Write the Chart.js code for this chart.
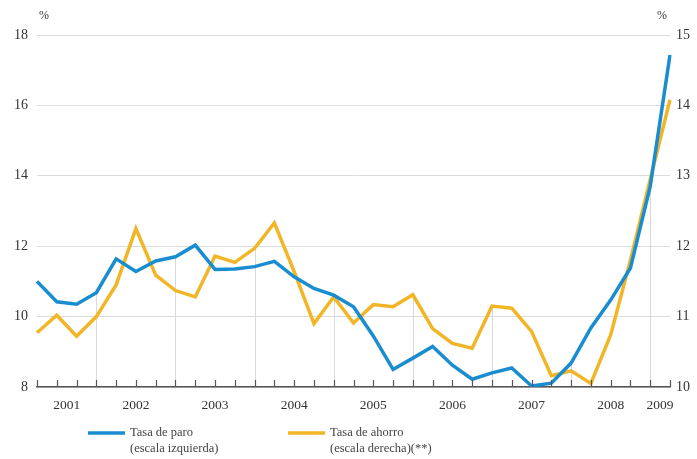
<!DOCTYPE html>
<html>
<head>
<meta charset="utf-8">
<script src="https://cdn.jsdelivr.net/npm/chart.js@4.4.0/dist/chart.umd.min.js"></script>
<style>
  html, body { margin: 0; padding: 0; background: #fff; }
  #wrap { width: 697px; height: 459px; position: relative; }
</style>
</head>
<body>
<div id="wrap"><canvas id="chart" width="697" height="459"></canvas></div>
<script>
//==================== DATA ====================
var quarters = ["II-01","III-01","IV-01",
  "I-02","II-02","III-02","IV-02",
  "I-03","II-03","III-03","IV-03",
  "I-04","II-04","III-04","IV-04",
  "I-05","II-05","III-05","IV-05",
  "I-06","II-06","III-06","IV-06",
  "I-07","II-07","III-07","IV-07",
  "I-08","II-08","III-08","IV-08",
  "I-09","II-09"];

// tasa de paro, escala izquierda
var paro = [11.0,10.42,10.35,10.68,11.64,11.28,11.58,11.70,12.03,11.34,11.35,11.42,11.57,11.13,10.80,10.61,
  10.28,9.45,8.50,8.82,9.15,8.62,8.22,8.40,8.54,8.03,8.11,8.68,9.68,10.47,11.38,13.7,17.43];

// tasa de ahorro, escala derecha
var ahorro = [10.77,11.02,10.72,11.0,11.45,12.25,11.59,11.37,11.28,11.86,11.77,11.97,12.33,11.64,10.90,11.28,
  10.91,11.17,11.14,11.31,10.83,10.62,10.55,11.15,11.12,10.79,10.16,10.23,10.05,10.74,11.8,12.95,14.08];

var years = ["2001","2002","2003","2004","2005","2006","2007","2008","2009"];
var yearStart = [0,3,7,11,15,19,23,27,31];
var yearEnd = [3,7,11,15,19,23,27,31,32];

var leftTicks = [8,10,12,14,16,18];
var rightTicks = [10,11,12,13,14,15];

var legendText = [["Tasa de paro","(escala izquierda)"],["Tasa de ahorro","(escala derecha)(**)"]];

var BLUE = "#1a8cd0";
var YELLOW = "#f2b526";
var SERIF = "'Liberation Serif', 'DejaVu Serif', serif";

//==================== PLUGINS ====================
// vertical lines at the start of each year, dropped from the series
var dropLines = {
  id: "dropLines",
  beforeDatasetsDraw: function(chart) {
    var ctx = chart.ctx, x = chart.scales.x, yl = chart.scales.y, yr = chart.scales.y1;
    var bottom = chart.chartArea.bottom;
    ctx.save();
    ctx.strokeStyle = "#d9d9d9";
    ctx.lineWidth = 1;
    for (var i = 1; i < yearStart.length; i++) {
      var idx = yearStart[i];
      var px = Math.round(x.getPixelForValue(idx)) + 0.5;
      var top = Math.min(yl.getPixelForValue(paro[idx]), yr.getPixelForValue(ahorro[idx]));
      ctx.beginPath();
      ctx.moveTo(px, top);
      ctx.lineTo(px, bottom);
      ctx.stroke();
    }
    ctx.restore();
  }
};

var extras = {
  id: "extras",
  afterDraw: function(chart) {
    var ctx = chart.ctx, x = chart.scales.x, area = chart.chartArea;
    ctx.save();
    // small ticks pointing up from the axis
    ctx.strokeStyle = "#555";
    ctx.lineWidth = 1.2;
    for (var i = 0; i < quarters.length; i++) {
      var px = Math.round(x.getPixelForValue(i)) + 0.5;
      ctx.beginPath();
      ctx.moveTo(px, area.bottom);
      ctx.lineTo(px, area.bottom - 7);
      ctx.stroke();
    }
    // year labels centred on each year's span
    ctx.fillStyle = "#333";
    ctx.font = "13.5px " + SERIF;
    ctx.textAlign = "center";
    ctx.textBaseline = "middle";
    for (var j = 0; j < years.length; j++) {
      var mid = (yearStart[j] + yearEnd[j]) / 2;
      ctx.fillText(years[j], x.getPixelForValue(mid), area.bottom + 18);
    }
    // % units
    ctx.font = "12px " + SERIF;
    ctx.fillText("%", area.left + 7, 16);
    ctx.fillText("%", area.right - 8, 16);
    // legend
    var items = [{color: BLUE, x: 88}, {color: YELLOW, x: 288}];
    ctx.font = "12.5px " + SERIF;
    ctx.textAlign = "left";
    ctx.fillStyle = "#444";
    items.forEach(function(it, k) {
      ctx.strokeStyle = it.color;
      ctx.lineWidth = 3.5;
      ctx.beginPath();
      ctx.moveTo(it.x, 433);
      ctx.lineTo(it.x + 37, 433);
      ctx.stroke();
      ctx.fillText(legendText[k][0], it.x + 42, 433);
      ctx.fillText(legendText[k][1], it.x + 42, 449);
    });
    ctx.restore();
  }
};

//==================== CHART ====================
new Chart(document.getElementById("chart"), {
  type: "line",
  data: {
    labels: quarters,
    datasets: [{
        label: "Tasa de paro (escala izquierda)",
        data: paro,
        yAxisID: "y",
        borderColor: BLUE,
        borderWidth: 3.5,
        pointRadius: 0,
        tension: 0,
        fill: false
      }, {
        label: "Tasa de ahorro (escala derecha)(**)",
        data: ahorro,
        yAxisID: "y1",
        borderColor: YELLOW,
        borderWidth: 3.5,
        pointRadius: 0,
        tension: 0,
        fill: false
      }
    ]
  },
  options: {
    responsive: false,
    animation: false,
    layout: { padding: { top: 35, right: 0, bottom: 0, left: 0 } },
    plugins: { legend: { display: false }, tooltip: { enabled: false } },
    scales: {
      x: {
        type: "category",
        offset: false,
        grid: { display: false },
        ticks: { display: false },
        border: { display: true, color: "#555", width: 1.5 },
        afterFit: function(s) { s.height = 72; }
      },
      y: {
        position: "left",
        min: 8, max: 18,
        afterBuildTicks: function(s) { s.ticks = leftTicks.map(function(v) { return {value: v}; }); },
        ticks: { color: "#333", padding: 9, font: { family: SERIF, size: 14 } },
        grid: { color: "#dcdcdc", lineWidth: 1, drawTicks: false },
        border: { display: false },
        afterFit: function(s) { s.width = 37; }
      },
      y1: {
        position: "right",
        min: 10, max: 15,
        afterBuildTicks: function(s) { s.ticks = rightTicks.map(function(v) { return {value: v}; }); },
        ticks: { color: "#333", padding: 6, font: { family: SERIF, size: 14 } },
        grid: { display: false, drawTicks: false },
        border: { display: false },
        afterFit: function(s) { s.width = 27; }
      }
    }
  },
  plugins: [dropLines, extras]
});
</script>
</body>
</html>
